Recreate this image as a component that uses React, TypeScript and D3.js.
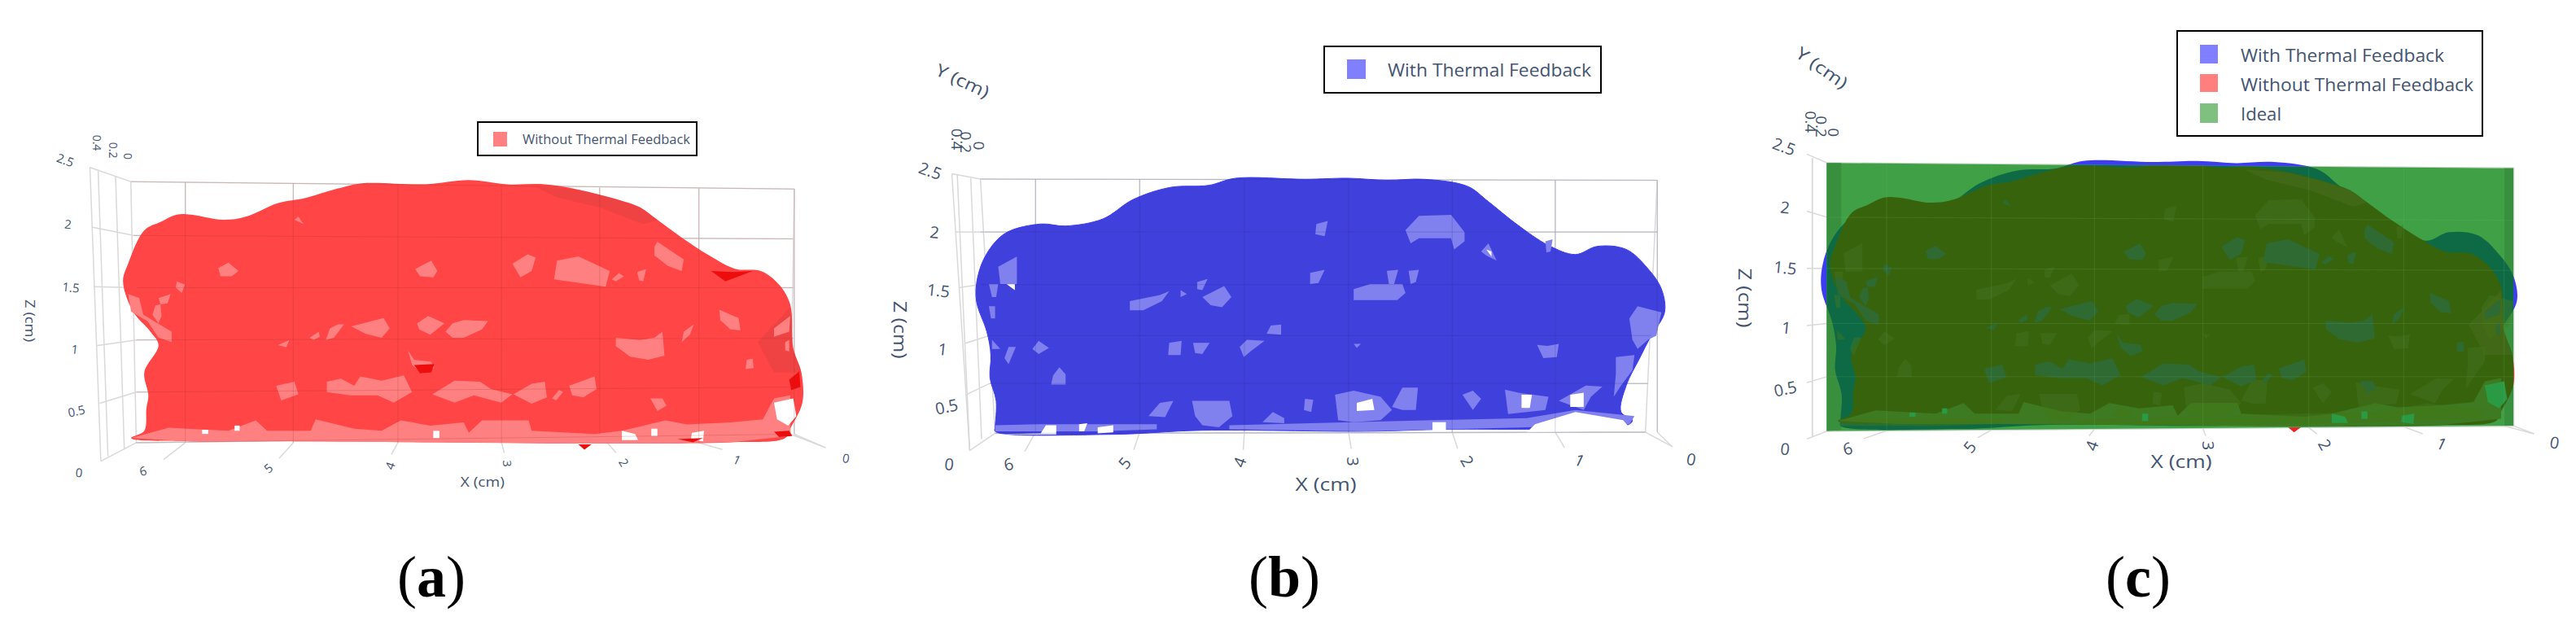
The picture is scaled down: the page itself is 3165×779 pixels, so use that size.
import React from "react";
import * as d3 from "d3";

type P = [number, number];

// --- axis ticks
const ticksX = [0, 1, 2, 3, 4, 5, 6];
const ticksZ = [0, 0.5, 1, 1.5, 2, 2.5];
const ticksY = ["0", "0.2", "0.4"];
const seriesWith = "With Thermal Feedback";
const seriesWithout = "Without Thermal Feedback";
const seriesIdeal = "Ideal";

// --- surfaces as [x cm, z cm]
const idealOutline: P[] = [[6.57, 2.5], [-0.09, 2.45], [-0.09, 0.04], [6.57, -0.01]];
const idealWalls: P[][] = [
  [[6.57, 2.5], [6.43, 2.5], [6.43, 0.0], [6.57, -0.01]],
  [[0.0, 2.45], [-0.09, 2.45], [-0.09, 0.04], [0.0, 0.04]],
];

const withoutOutline: P[] = [
  [6.54, 0.06], [6.41, 0.13], [6.39, 0.34], [6.37, 0.47], [6.41, 0.69], [6.27, 0.95], [6.35, 1.08], [6.52, 1.27],
  [6.62, 1.56], [6.57, 1.73], [6.41, 2.05], [6.25, 2.13], [6.09, 2.2], [5.95, 2.2], [5.63, 2.15], [5.41, 2.18],
  [5.09, 2.31], [4.82, 2.36], [4.5, 2.45], [4.26, 2.5], [3.64, 2.49], [3.21, 2.53], [2.83, 2.49], [2.46, 2.49],
  [2.13, 2.44], [1.76, 2.35], [1.52, 2.27], [1.35, 2.15], [1.11, 1.98], [0.84, 1.81], [0.58, 1.68], [0.33, 1.66],
  [0.15, 1.53], [0.04, 1.34], [0.01, 0.92], [-0.07, 0.69], [-0.08, 0.4], [0.04, 0.15], [0.09, 0.06], [0.63, 0.02],
  [2.08, 0.01], [3.53, 0.02], [4.93, 0.03], [5.95, 0.03],
];

const withoutBand: P[] = [
  [6.54, 0.06], [6.17, 0.16], [5.58, 0.13], [5.31, 0.23], [5.2, 0.13], [4.77, 0.13], [4.72, 0.24], [4.34, 0.15],
  [4.07, 0.13], [3.88, 0.23], [3.59, 0.18], [3.26, 0.21], [3.21, 0.11], [3.08, 0.23], [2.62, 0.23], [2.59, 0.13],
  [1.97, 0.1], [1.7, 0.13], [1.27, 0.23], [1.06, 0.19], [0.63, 0.21], [0.31, 0.24], [0.2, 0.44], [0.04, 0.47],
  [0.04, 0.08], [0.63, 0.02], [2.08, 0.01], [3.53, 0.02], [4.93, 0.03], [5.95, 0.03],
];

const withoutPatches: P[][] = [
  [[5.68, 1.69], [5.58, 1.74], [5.48, 1.66], [5.55, 1.61], [5.66, 1.61]],
  [[6.09, 1.56], [6.01, 1.53], [6.04, 1.45], [6.1, 1.5]],
  [[6.27, 1.4], [6.15, 1.44], [6.18, 1.35], [6.25, 1.34]],
  [[6.57, 1.44], [6.46, 1.4], [6.42, 1.24], [6.14, 1.08], [6.14, 0.98], [6.27, 1.02], [6.38, 1.18], [6.54, 1.27]],
  [[6.3, 1.33], [6.25, 1.34], [6.24, 1.23], [6.27, 1.16], [6.33, 1.24]],
  [[4.93, 2.15], [4.89, 2.18], [4.84, 2.11]],
  [[3.74, 1.68], [3.58, 1.76], [3.52, 1.66], [3.56, 1.6], [3.69, 1.61]],
  [[2.78, 1.73], [2.63, 1.82], [2.55, 1.79], [2.59, 1.66], [2.7, 1.6]],
  [[2.34, 1.76], [2.13, 1.8], [1.82, 1.66], [1.86, 1.51], [2.37, 1.58]],
  [[1.8, 1.58], [1.73, 1.64], [1.68, 1.61], [1.76, 1.56]],
  [[1.55, 1.65], [1.46, 1.68], [1.49, 1.56], [1.53, 1.57]],
  [[1.38, 1.89], [1.35, 1.94], [1.09, 1.77], [1.11, 1.66], [1.25, 1.71], [1.38, 1.81]],
  [[0.74, 1.29], [0.55, 1.21], [0.53, 1.09], [0.63, 1.1], [0.73, 1.19]],
  [[1.09, 1.08], [0.99, 1.15], [1.03, 1.05], [1.11, 0.98]],
  [[0.2, 1.11], [0.04, 1.23], [0.05, 1.08], [0.2, 1.03]],
  [[1.76, 1.02], [1.52, 1.0], [1.38, 1.02], [1.3, 1.08], [1.28, 0.85], [1.44, 0.81], [1.62, 0.84], [1.76, 0.94]],
  [[0.47, 0.81], [0.41, 0.82], [0.4, 0.73], [0.48, 0.72]],
  [[0.09, 0.98], [0.05, 1.0], [0.05, 0.89], [0.09, 0.9]],
  [[4.37, 1.13], [4.05, 1.21], [3.99, 1.11], [4.07, 1.02], [4.23, 1.06]],
  [[4.62, 1.0], [4.58, 1.11], [4.5, 1.15], [4.44, 1.15], [4.54, 1.02]],
  [[4.78, 1.02], [4.69, 1.08], [4.68, 1.03], [4.74, 1.0]],
  [[3.72, 1.16], [3.61, 1.23], [3.45, 1.16], [3.59, 1.05], [3.7, 1.1]],
  [[3.44, 1.08], [3.37, 1.16], [3.26, 1.19], [3.02, 1.18], [3.08, 1.1], [3.26, 1.02], [3.37, 1.02]],
  [[5.09, 0.95], [4.98, 1.0], [5.01, 0.93]],
  [[3.81, 0.9], [3.75, 0.81], [3.58, 0.79], [3.55, 0.73], [3.67, 0.68], [3.77, 0.76]],
  [[5.11, 0.56], [4.93, 0.6], [4.89, 0.48], [5.06, 0.42]],
  [[4.61, 0.6], [4.47, 0.63], [4.34, 0.56], [4.28, 0.65], [4.07, 0.61], [3.85, 0.66], [3.77, 0.5], [3.95, 0.4], [4.11, 0.47], [4.38, 0.47], [4.61, 0.5]],
  [[3.57, 0.48], [3.35, 0.61], [3.1, 0.6], [2.99, 0.53], [2.78, 0.48], [2.89, 0.4], [3.16, 0.47], [3.35, 0.4]],
  [[2.77, 0.48], [2.59, 0.58], [2.46, 0.6], [2.44, 0.45], [2.59, 0.39]],
  [[2.39, 0.44], [2.32, 0.52], [2.28, 0.5], [2.35, 0.42]],
  [[2.22, 0.56], [1.97, 0.65], [1.95, 0.53], [2.08, 0.45], [2.19, 0.47]],
  [[1.42, 0.44], [1.3, 0.44], [1.26, 0.37], [1.35, 0.32]],
];

const withoutHoles: P[][] = [
  [[0.2, 0.4], [0.01, 0.44], [-0.02, 0.27], [0.06, 0.18], [0.17, 0.24]],
  [[5.84, 0.14], [5.78, 0.14], [5.78, 0.1], [5.84, 0.1]],
  [[5.52, 0.18], [5.47, 0.18], [5.47, 0.13], [5.52, 0.13]],
  [[3.56, 0.13], [3.5, 0.13], [3.5, 0.06], [3.56, 0.06]],
  [[1.7, 0.13], [1.57, 0.1], [1.54, 0.04], [1.7, 0.04]],
  [[1.41, 0.15], [1.35, 0.15], [1.35, 0.08], [1.41, 0.08]],
  [[1.01, 0.11], [0.89, 0.13], [0.9, 0.03], [1.02, 0.05]],
];

const withoutDeep: P[][] = [
  [[0.82, 1.66], [0.6, 1.65], [0.41, 1.66], [0.68, 1.56]],
  [[3.75, 0.76], [3.55, 0.77], [3.58, 0.69], [3.69, 0.68]],
  [[2.13, 0.0], [2.0, 0.0], [2.07, -0.05]],
  [[0.2, 0.12], [0.05, 0.13], [0.02, 0.08], [0.15, 0.07]],
  [[0.05, 0.62], [-0.05, 0.7], [-0.06, 0.55], [0.03, 0.52]],
  [[1.15, 0.05], [0.9, 0.06], [1.0, 0.02]],
];

const withoutShade: P[][] = [
  [[0.36, 0.98], [0.04, 1.31], [0.01, 0.92], [-0.07, 0.69], [0.2, 0.69]],
  [[2.56, 2.47], [2.13, 2.44], [1.76, 2.35], [1.52, 2.27], [1.35, 2.15], [1.49, 2.11], [1.92, 2.27], [2.35, 2.37]],
];

const withOutline: P[] = [
  [6.39, 0.06], [6.38, 0.32], [6.44, 0.55], [6.43, 0.77], [6.47, 1.0], [6.57, 1.3], [6.56, 1.53], [6.47, 1.77],
  [6.29, 1.97], [5.95, 2.06], [5.71, 2.04], [5.35, 2.11], [5.06, 2.3], [4.7, 2.42], [4.33, 2.44], [4.07, 2.51],
  [3.4, 2.5], [2.98, 2.51], [2.61, 2.49], [2.25, 2.5], [1.83, 2.43], [1.63, 2.28], [1.36, 2.06], [1.05, 1.85],
  [0.79, 1.76], [0.58, 1.84], [0.3, 1.81], [0.09, 1.62], [-0.04, 1.42], [-0.07, 1.19], [0.06, 0.96], [0.17, 0.74],
  [0.3, 0.47], [0.35, 0.21], [0.24, 0.13], [0.27, 0.09], [0.69, 0.05], [1.26, 0.04], [2.04, 0.04], [2.82, 0.02],
  [4.39, 0.03], [5.27, -0.01], [6.39, 0.02],
];

const withPatches: P[][] = [
  [[6.36, 1.64], [6.18, 1.74], [6.18, 1.47], [6.34, 1.47]],
  [[6.45, 1.47], [6.36, 1.47], [6.38, 1.34], [6.42, 1.34]],
  [[6.45, 1.25], [6.39, 1.25], [6.39, 1.13], [6.43, 1.13]],
  [[6.42, 0.92], [6.34, 0.83], [6.42, 0.83]],
  [[6.26, 0.85], [6.19, 0.85], [6.26, 0.68], [6.3, 0.74]],
  [[5.97, 0.91], [5.87, 0.84], [5.97, 0.78], [6.03, 0.83]],
  [[5.77, 0.65], [5.71, 0.58], [5.71, 0.48], [5.85, 0.48], [5.83, 0.57]],
  [[5.09, 1.3], [4.8, 1.36], [4.71, 1.4], [4.78, 1.3], [4.96, 1.21], [5.09, 1.21]],
  [[4.44, 1.49], [4.34, 1.52], [4.39, 1.41], [4.44, 1.42]],
  [[4.6, 1.41], [4.54, 1.37], [4.6, 1.34]],
  [[4.39, 1.34], [4.18, 1.45], [4.11, 1.34], [4.2, 1.24], [4.31, 1.26]],
  [[3.73, 1.06], [3.63, 1.07], [3.63, 0.97], [3.77, 0.98]],
  [[4.71, 0.89], [4.59, 0.91], [4.6, 0.77], [4.72, 0.77]],
  [[4.48, 0.89], [4.32, 0.89], [4.39, 0.78], [4.46, 0.79]],
  [[4.03, 0.85], [3.96, 0.92], [3.79, 0.91], [3.92, 0.81], [3.99, 0.75]],
  [[3.29, 2.06], [3.18, 2.09], [3.21, 1.94], [3.3, 1.96]],
  [[3.35, 1.58], [3.21, 1.61], [3.27, 1.48], [3.35, 1.47]],
  [[2.61, 1.6], [2.5, 1.61], [2.54, 1.47], [2.59, 1.47]],
  [[2.4, 1.6], [2.3, 1.61], [2.33, 1.49], [2.38, 1.47]],
  [[2.93, 1.42], [2.77, 1.47], [2.46, 1.47], [2.43, 1.38], [2.51, 1.31], [2.93, 1.31]],
  [[2.43, 2.0], [2.3, 2.14], [1.99, 2.15], [1.86, 1.98], [1.86, 1.89], [1.96, 1.81], [1.99, 1.92], [2.3, 1.92], [2.38, 1.87]],
  [[1.7, 1.79], [1.63, 1.87], [1.55, 1.7], [1.65, 1.75]],
  [[1.08, 1.89], [1.01, 1.91], [1.03, 1.79], [1.07, 1.78]],
  [[1.16, 0.87], [1.06, 0.86], [0.95, 0.88], [0.97, 0.75], [1.1, 0.74]],
  [[2.93, 0.88], [2.86, 0.88], [2.9, 0.84]],
  [[0.19, 1.25], [-0.04, 1.19], [0.01, 0.96], [0.09, 0.92], [0.19, 0.83], [0.24, 0.92], [0.27, 1.13]],
  [[0.4, 0.75], [0.22, 0.77], [0.24, 0.62], [0.35, 0.47], [0.42, 0.36], [0.4, 0.58]],
  [[4.91, 0.17], [4.8, 0.3], [4.67, 0.32], [4.75, 0.16]],
  [[4.49, 0.32], [4.13, 0.32], [4.1, 0.17], [4.23, 0.06], [4.39, 0.08], [4.46, 0.17]],
  [[3.4, 0.34], [3.32, 0.33], [3.34, 0.21], [3.41, 0.23]],
  [[3.11, 0.38], [2.93, 0.42], [2.67, 0.36], [2.56, 0.23], [2.67, 0.13], [2.93, 0.11], [3.08, 0.13]],
  [[2.56, 0.26], [2.46, 0.45], [2.31, 0.45], [2.33, 0.23], [2.46, 0.23]],
  [[1.88, 0.38], [1.78, 0.42], [1.7, 0.34], [1.78, 0.23]],
  [[1.47, 0.43], [1.34, 0.4], [1.05, 0.36], [1.08, 0.23], [1.44, 0.19]],
  [[0.95, 0.32], [0.69, 0.47], [0.53, 0.46], [0.64, 0.36], [0.71, 0.23]],
  [[3.81, 0.11], [3.71, 0.21], [3.6, 0.15], [3.6, 0.1]],
  [[6.39, 0.08], [5.95, 0.09], [4.83, 0.09], [4.83, 0.04], [5.4, 0.02], [6.39, 0.02]],
  [[4.13, 0.08], [3.34, 0.1], [2.17, 0.13], [1.26, 0.15], [0.79, 0.23], [0.22, 0.17], [0.27, 0.09], [0.69, 0.08], [1.26, 0.06], [2.04, 0.04], [2.82, 0.02], [4.13, 0.04]],
];

const withHoles: P[][] = [
  [[2.9, 0.3], [2.75, 0.34], [2.73, 0.23], [2.9, 0.22]],
  [[1.31, 0.38], [1.21, 0.38], [1.23, 0.25], [1.31, 0.25]],
  [[0.84, 0.38], [0.71, 0.4], [0.71, 0.26], [0.84, 0.26]],
  [[6.28, 1.47], [6.2, 1.47], [6.2, 1.41]],
  [[1.65, 1.81], [1.6, 1.79], [1.6, 1.74]],
  [[2.17, 0.11], [2.04, 0.11], [2.04, 0.02], [2.17, 0.02]],
  [[1.18, 0.09], [0.79, 0.21], [0.33, 0.13], [0.27, 0.06], [0.69, 0.02], [1.26, 0.01]],
  [[6.37, -0.01], [5.95, 0.0], [5.9, 0.08], [5.8, 0.08], [5.8, -0.01]],
  [[5.58, 0.09], [5.5, 0.1], [5.53, 0.02], [5.58, 0.02]],
  [[5.4, 0.06], [5.25, 0.08], [5.25, 0.01], [5.4, 0.0]],
];

// --- helpers
type Conv = (x: number, y: number) => P;
const convA: Conv = (x, y) => [x / 1.493, 130 + y / 2.416];
const convB: Conv = (x, y) => [1080 + x / 1.508, 40 + y / 2.122];
const convC: Conv = (x, y) => [2120 + x / 1.5, 20 + y / 2.066];
const meshScales = (c: Conv, x0: number, perX: number, z0: number, perZ: number) => ({
  x: d3.scaleLinear().domain([0, 1]).range([c(x0, 0)[0], c(x0 - perX, 0)[0]]),
  z: d3.scaleLinear().domain([0, 1]).range([c(0, z0)[1], c(0, z0 - perZ)[1]]),
});
type Mesh = ReturnType<typeof meshScales>;
const pathOf = (m: Mesh, pts: P[], smooth = false) =>
  d3.line<P>().x((d) => m.x(d[0])).y((d) => m.z(d[1])).curve(smooth ? d3.curveCatmullRomClosed.alpha(0.5) : d3.curveLinearClosed)(pts) || "";

const GRID = "#d9d9d9";
const INK = "#43546f";
const SANS = "'Open Sans', sans-serif";

type Axis = {
  c: Conv;
  backX: number[]; backTop: number[]; backBase: number[];
  frontX: P[]; labelX: P[]; rotX: number[];
  corner: P[];
  rows: [P, P, P, P][];
  sideLines: [P, P][];
  yLabels: P[];
  xTitle: { at: P; w: number; size: number };
  zTitle: { at: P; w: number; size: number };
  yTitle?: { at: P; w: number; rot: number; size: number };
  tickSize: number;
};

const axisA: Axis = {
  c: convA,
  backX: [1457, 1282, 1100, 920, 730, 538, 340],
  backTop: [247, 245, 243, 238, 232, 230, 227],
  backBase: [975, 1000, 975, 1000, 1000, 1000, 1000],
  frontX: [[1515, 1015], [1325, 1020], [1130, 1030], [925, 1030], [718, 1035], [512, 1047], [300, 1050]],
  labelX: [[1552, 1045], [1352, 1050], [1145, 1058], [932, 1062], [715, 1068], [492, 1075], [262, 1083]],
  rotX: [10, 25, 60, 90, -70, -40, -15],
  corner: [[240, 225], [1457, 247], [1450, 975], [250, 1000], [165, 183], [185, 1055]],
  rows: [
    [[250, 1000], [1450, 975], [185, 1055], [145, 1088]],
    [[250, 850], [1450, 835], [183, 883], [140, 905]],
    [[250, 695], [1455, 690], [177, 712], [137, 722]],
    [[250, 540], [1455, 540], [172, 537], [130, 538]],
    [[245, 385], [1455, 395], [168, 360], [125, 350]],
    [[240, 225], [1457, 247], [165, 183], [120, 160]],
  ],
  sideLines: [[[180, 190], [198, 1040]], [[212, 210], [228, 1020]]],
  yLabels: [[235, 150], [208, 132], [178, 110]],
  xTitle: { at: [885, 1115], w: 54, size: 17 },
  zTitle: { at: [55, 638], w: 52, size: 16 },
  tickSize: 15,
};

const axisB: Axis = {
  c: convB,
  backX: [1442, 1253, 1062, 870, 677, 483, 290],
  backTop: [385, 385, 384, 384, 383, 383, 382],
  backBase: [1042, 1042, 1042, 1042, 1042, 1042, 1042],
  frontX: [[1470, 1080], [1270, 1082], [1072, 1085], [875, 1085], [675, 1088], [472, 1088], [270, 1092]],
  labelX: [[1505, 1112], [1298, 1115], [1090, 1117], [878, 1118], [668, 1120], [455, 1122], [240, 1125]],
  rotX: [10, 25, 60, 90, -70, -50, -15],
  corner: [[188, 382], [1442, 385], [1420, 1042], [215, 1045], [135, 368], [168, 1090]],
  rows: [
    [[215, 1045], [1420, 1042], [168, 1090], [130, 1125]],
    [[205, 915], [1425, 915], [160, 945], [125, 975]],
    [[205, 790], [1430, 790], [160, 810], [118, 825]],
    [[188, 657], [1440, 657], [148, 665], [110, 672]],
    [[188, 520], [1442, 520], [142, 520], [103, 520]],
    [[188, 382], [1442, 385], [135, 368], [95, 360]],
  ],
  sideLines: [[[145, 370], [168, 1090]], [[170, 380], [190, 1060]]],
  yLabels: [[185, 295], [162, 286], [145, 278]],
  xTitle: { at: [828, 1175], w: 75, size: 22 },
  zTitle: { at: [40, 775], w: 71, size: 22 },
  yTitle: { at: [155, 125], w: 70, rot: 25, size: 21 },
  tickSize: 20,
};

const axisC: Axis = {
  c: convC,
  backX: [1435, 1250, 1075, 880, 680, 490, 297],
  backTop: [384, 382, 380, 378, 376, 374, 372],
  backBase: [1040, 1042, 1044, 1046, 1048, 1050, 1052],
  frontX: [[1490, 1060], [1285, 1060], [1090, 1060], [885, 1065], [670, 1065], [465, 1070], [255, 1072]],
  labelX: [[1528, 1082], [1320, 1085], [1105, 1087], [890, 1090], [675, 1090], [450, 1093], [225, 1097]],
  rotX: [10, 25, 60, 90, -70, -50, -15],
  corner: [[187, 372], [1453, 385], [1453, 1040], [187, 1053], [160, 360], [160, 1068]],
  rows: [
    [[187, 1053], [1453, 1040], [150, 1073], [110, 1098]],
    [[187, 915], [1453, 915], [150, 930], [110, 945]],
    [[187, 780], [1453, 780], [150, 785], [112, 790]],
    [[187, 640], [1453, 645], [150, 640], [110, 638]],
    [[187, 510], [1453, 518], [150, 495], [110, 485]],
    [[187, 372], [1453, 385], [150, 350], [108, 330]],
  ],
  sideLines: [[[160, 360], [160, 1068]]],
  yLabels: [[200, 295], [177, 280], [158, 268]],
  xTitle: { at: [840, 1128], w: 75, size: 22 },
  zTitle: { at: [37, 715], w: 73, size: 22 },
  yTitle: { at: [178, 130], w: 72, rot: 35, size: 21 },
  tickSize: 20,
};

function AxisBack({ a }: { a: Axis }) {
  const { c } = a;
  const lineP = (p: P, q: P, key: string) => {
    const [x1, y1] = c(p[0], p[1]);
    const [x2, y2] = c(q[0], q[1]);
    return <line key={key} x1={x1} y1={y1} x2={x2} y2={y2} stroke={GRID} strokeWidth={1.5} />;
  };
  const xGrid = d3.scaleLinear().domain(ticksX).range(a.backX);
  const xTop = d3.scaleLinear().domain(ticksX).range(a.backTop);
  const xBase = d3.scaleLinear().domain(ticksX).range(a.backBase);
  return (
    <g>
      {ticksX.map((t, i) => lineP([xGrid(t), xTop(t)], [xGrid(t), xBase(t)], "gx" + i))}
      {ticksX.map((t, i) => lineP([xGrid(t), xBase(t)], a.frontX[i], "fx" + i))}
      {ticksZ.map((t, i) => lineP(a.rows[i][0], a.rows[i][1], "gz" + i))}
      {ticksZ.map((t, i) => lineP(a.rows[i][2], a.rows[i][0], "oz" + i))}
      {a.sideLines.map((s, i) => lineP(s[0], s[1], "sl" + i))}
      {lineP(a.corner[0], a.corner[3], "c1")}
      {lineP(a.corner[1], a.corner[2], "c2")}
      {lineP(a.corner[4], a.corner[5], "c3")}
      {lineP(a.corner[3], a.corner[2], "c4")}
      {lineP(a.corner[2], a.frontX[0], "c5")}
    </g>
  );
}

function AxisOverlay({ a, tint }: { a: Axis; tint: string }) {
  const { c } = a;
  const xGrid = d3.scaleLinear().domain(ticksX).range(a.backX);
  const xTop = d3.scaleLinear().domain(ticksX).range(a.backTop);
  const xBase = d3.scaleLinear().domain(ticksX).range(a.backBase);
  return (
    <g stroke={tint} strokeWidth={1} fill="none">
      {ticksX.map((t, i) => {
        const [x1, y1] = c(xGrid(t), xTop(t));
        const [x2, y2] = c(xGrid(t), xBase(t));
        return <line key={i} x1={x1} y1={y1} x2={x2} y2={y2} />;
      })}
      {ticksZ.map((t, i) => {
        const [x1, y1] = c(a.rows[i][0][0], a.rows[i][0][1]);
        const [x2, y2] = c(a.rows[i][1][0], a.rows[i][1][1]);
        return <line key={i} x1={x1} y1={y1} x2={x2} y2={y2} />;
      })}
    </g>
  );
}

function AxisText({ a }: { a: Axis }) {
  const { c } = a;
  const text = (label: string, at: P, rot: number, size: number, key: string, w?: number) => {
    const [x, y] = c(at[0], at[1]);
    return (
      <text
        key={key}
        transform={`translate(${x},${y}) rotate(${rot})`}
        textAnchor="middle"
        dominantBaseline="central"
        fontFamily={SANS}
        fontSize={size}
        fill={INK}
        {...(w ? { textLength: w, lengthAdjust: "spacingAndGlyphs" } : {})}
      >
        {label}
      </text>
    );
  };
  return (
    <g>
      {ticksX.map((t, i) => text(String(t), a.labelX[i], a.rotX[i], a.tickSize, "lx" + i))}
      {ticksZ.map((t, i) => text(String(t), a.rows[i][3], i === 5 ? 20 : i === 1 ? -12 : 6, a.tickSize, "lz" + i))}
      {ticksY.map((t, i) => text(t, a.yLabels[i], 90, a.tickSize - 1, "ly" + i))}
      {text("X (cm)", a.xTitle.at, 0, a.xTitle.size, "tx", a.xTitle.w)}
      {text("Z (cm)", a.zTitle.at, 90, a.zTitle.size, "tz", a.zTitle.w)}
      {a.yTitle ? text("Y (cm)", a.yTitle.at, a.yTitle.rot, a.yTitle.size, "ty", a.yTitle.w) : null}
    </g>
  );
}

function Legend({ box, entries, size }: { box: number[]; size: number; entries: { label: string; color: string; sq: number[]; tx: number; end: number; base: number }[] }) {
  return (
    <g>
      <rect x={box[0]} y={box[1]} width={box[2] - box[0]} height={box[3] - box[1]} fill="#fff" stroke="#000" strokeWidth={2} />
      {entries.map((e) => (
        <g key={e.label}>
          <rect x={e.sq[0]} y={e.sq[1]} width={e.sq[2] - e.sq[0]} height={e.sq[3] - e.sq[1]} fill={e.color} />
          <text x={e.tx} y={e.base} fontFamily={SANS} fontSize={size} fill={INK} textLength={e.end - e.tx} lengthAdjust="spacingAndGlyphs">
            {e.label}
          </text>
        </g>
      ))}
    </g>
  );
}

function Caption({ x, y, letter }: { x: number; y: number; letter: string }) {
  return (
    <text x={x} y={y} textAnchor="middle" fontFamily="'Liberation Serif', serif" fontSize={72} fill="#000">
      (<tspan fontWeight="bold">{letter}</tspan>)
    </text>
  );
}

export default function App() {
  const mA = meshScales(convA, 1457, 186, 1005, 310);
  const mB = meshScales(convB, 1442, 192, 1045, 265);
  const mIdeal = meshScales(convC, 1435, 190, 1050, 271);
  const mBlue = meshScales(convC, 1445, 193, 1045, 270);
  const mRed = meshScales(convC, 1437, 188, 1043, 265);
  const polys = (m: Mesh, list: P[][], fill: string, opacity = 1) =>
    list.map((p, i) => <path key={i} d={pathOf(m, p)} fill={fill} opacity={opacity} />);

  return (
    <svg width={3165} height={779} style={{ position: "absolute", left: 0, top: 0, background: "#fff" }}>
      <defs>
        <filter id="soft" x="-5%" y="-5%" width="110%" height="110%">
          <feGaussianBlur stdDeviation="0.7" />
        </filter>
        <clipPath id="idealClip">
          <path d={pathOf(mIdeal, idealOutline)} />
        </clipPath>
      </defs>

      {/* (a) */}
      <AxisBack a={axisA} />
      <g filter="url(#soft)">
        <path d={pathOf(mA, withoutOutline, true)} fill="#ff4444" />
        {polys(mA, withoutShade, "#c04040", 0.25)}
        <path d={pathOf(mA, withoutBand)} fill="#ff8080" />
        {polys(mA, withoutPatches, "#ff8080")}
        {polys(mA, withoutHoles, "#ffffff")}
        {polys(mA, withoutDeep, "#ee1010")}
      </g>
      <AxisOverlay a={axisA} tint="rgba(150,50,50,0.22)" />
      <AxisText a={axisA} />
      <Legend
        box={[587, 150, 856, 191]}
        size={16}
        entries={[{ label: seriesWithout, color: "#ff8080", sq: [606, 162, 623, 180], tx: 642, end: 848, base: 177 }]}
      />
      <Caption x={530} y={733} letter="a" />

      {/* (b) */}
      <AxisBack a={axisB} />
      <g filter="url(#soft)">
        <path d={pathOf(mB, withOutline, true)} fill="#4040dd" stroke="#3c3cf0" strokeWidth={1} />
        {polys(mB, withPatches, "#8080ee")}
        {polys(mB, withHoles, "#ffffff")}
      </g>
      <AxisOverlay a={axisB} tint="rgba(40,40,120,0.2)" />
      <AxisText a={axisB} />
      <Legend
        box={[1627, 57, 1967, 114]}
        size={22}
        entries={[{ label: seriesWith, color: "#8080ff", sq: [1655, 73, 1678, 97], tx: 1705, end: 1955, base: 94 }]}
      />
      <Caption x={1578} y={733} letter="b" />

      {/* (c) */}
      <AxisBack a={axisC} />
      <g filter="url(#soft)">
        <path d={pathOf(mRed, withoutOutline, true)} fill="#f03030" />
        <path d={pathOf(mRed, withoutDeep[2])} fill="#f02020" />
        <path d={pathOf(mBlue, withOutline, true)} fill="#3c3cf0" />
        <path d={pathOf(mIdeal, idealOutline)} fill="#3fa045" />
        {polys(mIdeal, idealWalls, "#378f3d")}
        <g clipPath="url(#idealClip)">
          <path d={pathOf(mBlue, withOutline, true)} fill="#0f6b45" />
          <path d={pathOf(mRed, withoutOutline, true)} fill="#38640f" />
          {polys(mRed, withoutShade, "#4a6a15", 0.5)}
          <path d={pathOf(mRed, withoutBand)} fill="#3c7a22" />
          {polys(mBlue, withPatches, "#47751c", 0.4)}
          {polys(mRed, withoutPatches, "#2b6b3a", 0.8)}
          {polys(mRed, withoutHoles, "#2c9a45")}
        </g>
      </g>
      <AxisOverlay a={axisC} tint="rgba(120,190,120,0.18)" />
      <AxisText a={axisC} />
      <Legend
        box={[2675, 38, 3050, 167]}
        size={22}
        entries={[
          { label: seriesWith, color: "#7f7fff", sq: [2703, 55, 2725, 78], tx: 2753, end: 3003, base: 76 },
          { label: seriesWithout, color: "#ff7f7f", sq: [2703, 91, 2725, 113], tx: 2753, end: 3039, base: 112 },
          { label: seriesIdeal, color: "#7fbf7f", sq: [2703, 127, 2725, 151], tx: 2753, end: 2803, base: 148 },
        ]}
      />
      <Caption x={2627} y={733} letter="c" />
    </svg>
  );
}
